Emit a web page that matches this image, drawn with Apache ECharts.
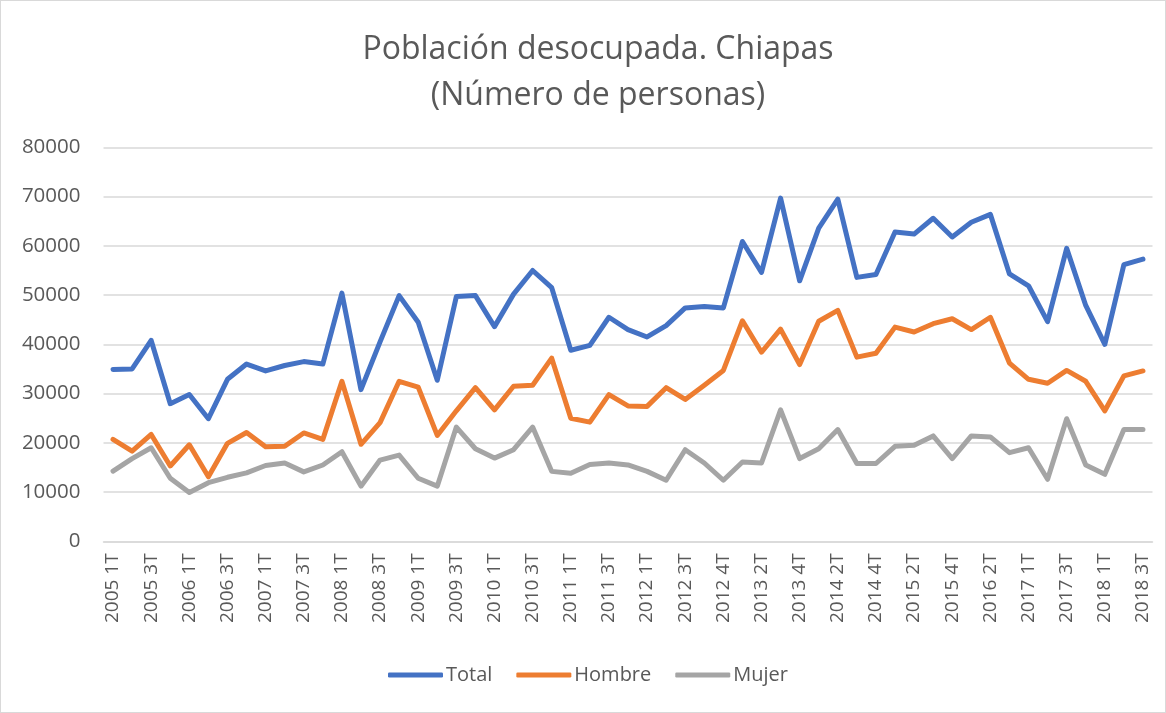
<!DOCTYPE html>
<html>
<head>
<meta charset="utf-8">
<script src="https://cdn.jsdelivr.net/npm/echarts@6/dist/echarts.min.js"></script>
<style>
  html, body { margin: 0; padding: 0; background: #fff; }
  #chart {
    position: absolute; left: 0; top: 0;
    width: 1164px; height: 711px;
    border: 1px solid #d9d9d9;
  }
</style>
</head>
<body>
<div id="chart"></div>
<script>
// trimestres (2016 4T no aparece en la serie)
var categorias = [
  "2005 1T", "2005 2T", "2005 3T", "2005 4T",
  "2006 1T", "2006 2T", "2006 3T", "2006 4T",
  "2007 1T", "2007 2T", "2007 3T", "2007 4T",
  "2008 1T", "2008 2T", "2008 3T", "2008 4T",
  "2009 1T", "2009 2T", "2009 3T", "2009 4T",
  "2010 1T", "2010 2T", "2010 3T", "2010 4T",
  "2011 1T", "2011 2T", "2011 3T", "2011 4T",
  "2012 1T", "2012 2T", "2012 3T", "2012 4T", "2012 4T",
  "2013 1T", "2013 2T", "2013 3T", "2013 4T",
  "2014 1T", "2014 2T", "2014 3T", "2014 4T",
  "2015 1T", "2015 2T", "2015 3T", "2015 4T",
  "2016 1T", "2016 2T", "2016 3T",
  "2017 1T", "2017 2T", "2017 3T", "2017 4T",
  "2018 1T", "2018 2T", "2018 3T"
];

var total = [
  34900, 35000, 40800, 27950, 29800, 24900, 32900, 36000, 34600, 35700, 36500, 36000, 50400, 30800,
  40500, 49900, 44500, 32700, 49700, 49900, 43600, 50200, 55000, 51500, 38800, 39800, 45500, 43000,
  41500, 43800, 47400, 47700, 47400, 60900, 54600, 69700, 52900, 63600, 69500, 53600, 54200,
  62800, 62400, 65600, 61800, 64800, 66400, 54300, 51900, 44600, 59500, 47900, 40000, 56200, 57300
];

var hombre = [
  20700, 18300, 21700, 15300, 19600, 13100, 19900, 22100, 19200, 19300, 22000, 20700, 32500, 19700,
  24100, 32500, 31300, 21500, 26500, 31200, 26700, 31500, 31700, 37200, 25000, 24200, 29800, 27500,
  27400, 31200, 28800, 31700, 34700, 44800, 38400, 43100, 35900, 44700, 46900, 37400, 38200,
  43500, 42500, 44200, 45200, 43000, 45500, 36200, 32900, 32100, 34700, 32500, 26500, 33600, 34600
];

var mujer = [
  14250, 16800, 19000, 12800, 9900, 11900, 13000, 13900, 15400, 15900, 14100, 15500, 18200, 11200,
  16500, 17500, 12800, 11200, 23200, 18800, 16900, 18600, 23200, 14200, 13800, 15600, 15900, 15500,
  14200, 12400, 18600, 15900, 12400, 16100, 15900, 26700, 16800, 18800, 22700, 15800, 15800,
  19300, 19500, 21400, 16800, 21400, 21200, 18000, 19000, 12600, 24900, 15500, 13600, 22700, 22700
];

var fuente = "'Open Sans', 'Noto Sans', sans-serif";
var gris = "#595959";

var myChart = echarts.init(document.getElementById("chart"));

function linea(nombre, datos, color) {
  return {
    name: nombre,
    type: "line",
    data: datos,
    symbol: "none",
    smooth: false,
    lineStyle: { width: 5, color: color, join: "round", cap: "round" },
    itemStyle: { color: color }
  };
}

var option = {
  animation: false,
  backgroundColor: "#fff",
  textStyle: { fontFamily: fuente },
  title: {
    text: "Población desocupada. Chiapas\n(Número de personas)",
    left: 592,
    textAlign: "center",
    top: 21,
    textStyle: {
      fontFamily: fuente,
      fontSize: 32,
      fontWeight: "normal",
      color: gris,
      lineHeight: 46
    }
  },
  legend: {
    bottom: 22,
    left: 382,
    itemGap: 24,
    itemWidth: 55,
    itemHeight: 5,
    icon: "roundRect",
    textStyle: { fontFamily: fuente, fontSize: 20, color: gris, padding: [0, 0, 0, -2] },
    data: ["Total", "Hombre", "Mujer"]
  },
  grid: {
    left: 102.5,
    right: 12.5,
    top: 146.4,
    bottom: 170.7,
    containLabel: false
  },
  xAxis: {
    type: "category",
    data: categorias,
    boundaryGap: true,
    axisLine: { lineStyle: { color: "#d9d9d9", width: 1.5 } },
    axisTick: { show: false },
    axisLabel: {
      interval: 1,
      rotate: 90,
      margin: 12,
      fontSize: 19,
      color: gris,
      fontFamily: fuente
    }
  },
  yAxis: {
    type: "value",
    min: 0,
    max: 80000,
    interval: 10000,
    axisLine: { show: false },
    axisTick: { show: false },
    axisLabel: {
      fontSize: 20.5,
      color: gris,
      margin: 23,
      fontFamily: fuente,
      formatter: function (v) { return String(v); }
    },
    splitLine: { lineStyle: { color: "#d9d9d9", width: 1.5 } }
  },
  series: [
    linea("Total", total, "#4472C4"),
    linea("Hombre", hombre, "#ED7D31"),
    linea("Mujer", mujer, "#A5A5A5")
  ]
};

myChart.setOption(option);
</script>
</body>
</html>
